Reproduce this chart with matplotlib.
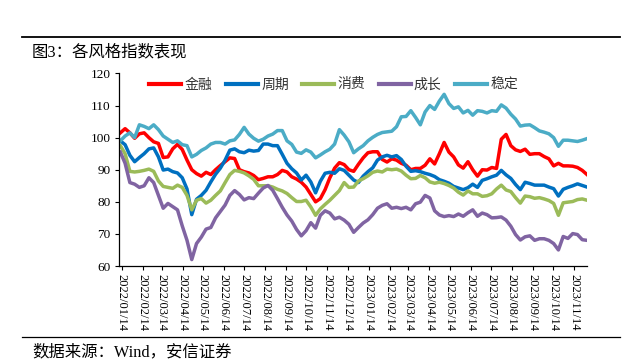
import matplotlib
matplotlib.use('Agg')
import matplotlib.pyplot as plt
import pandas as pd
from matplotlib.lines import Line2D

plt.rcParams['font.family'] = ['Liberation Serif', 'Noto Sans CJK SC']

# ---- data (weekly samples) ----
start_date = '2022-01-12'
end_date = '2023-12-03'
n_points = 99

fin = [101.5, 102.8, 101.5, 99.8, 101.2, 101.5, 100, 98.7, 98.2, 93.8,
       94, 96.5, 97.9, 96.3, 93, 90, 88.8, 88, 89.2, 88.5,
       90, 91.3, 92.5, 93.7, 93.5, 90, 89.4, 89, 88.2, 86.9,
       87.3, 87.8, 87.8, 88.5, 89.8, 89.3, 87.8, 87.1, 86.1, 84.6,
       82.3, 80, 81, 83.8, 87.5, 90.5, 92.2, 91.6, 90, 89.5,
       91.7, 93.7, 95.3, 95.6, 95.6, 93.2, 92.4, 93.4, 93, 92,
       91.4, 90, 90.4, 90.4, 91.4, 93.4, 91.8, 95, 98.5, 95.5,
       94, 91.5, 90.5, 92.5, 90, 88, 90, 89.9, 90.7, 90.4,
       99.5, 101, 97.5, 96.2, 95.7, 96.4, 94.8, 95, 95, 94.1,
       93.4, 91.2, 92, 91.2, 91.2, 91.1, 90.7, 89.8, 88.5]

cyc = [99, 97.8, 94.5, 92.5, 93.8, 95, 96.5, 96.8, 94, 89.9,
       90.2, 89.4, 89, 87.5, 84, 76, 80.8, 82, 83.6, 86.2,
       88.6, 90.5, 93, 96.1, 96.5, 95.6, 95.3, 96.1, 95.8, 96,
       98, 98, 97.5, 97.5, 94.8, 92, 90.3, 89, 86.8, 88.3,
       86.2, 82.8, 86.4, 88.9, 89.2, 88.9, 90.3, 89.8, 88.3, 86.8,
       86, 88, 89.4, 90.6, 93, 94, 94.5, 94, 94.4, 93.2,
       91.1, 89.5, 89.7, 89.4, 88.9, 88.5, 87.9, 86.9, 86.4, 85.8,
       84.8, 84.3, 83.8, 84.4, 85.5, 84.5, 86.7, 87.2, 87.8, 88.3,
       89.8, 88.4, 87.3, 85.4, 83.8, 86.1, 85.7, 85.2, 85.2, 85.2,
       84.6, 84.1, 81.8, 83.9, 84.5, 85, 85.6, 85.1, 84.6]

cons = [97.5, 95, 89.5, 89.3, 89.5, 89.8, 90.2, 89.5, 86.5, 84.8,
        84.5, 84.2, 85.2, 84.5, 82, 77.5, 80.5, 81, 79.6, 80.5,
        82, 83.4, 86, 88.5, 89.8, 89.5, 89, 88.1, 87, 85,
        85, 85, 84.6, 83.9, 83.4, 82.6, 81.3, 80.1, 80.1, 80.5,
        78.4, 75.8, 77.8, 79.2, 80.5, 82, 83.5, 86, 84.5, 84.6,
        86.5, 87.2, 88.1, 89.2, 89.6, 89.3, 90.2, 90, 90.2, 89.6,
        88.3, 87.2, 87.3, 88.2, 87.5, 86.2, 85.8, 86.1, 85.7, 85.1,
        84.3, 83, 82.1, 83.4, 82.5, 82.5, 81.7, 81.9, 82.5, 84,
        85.2, 83.7, 83.2, 81.3, 79.6, 81.8, 81.6, 81.1, 81.3, 80.9,
        80.4, 79.5, 75.8, 79.7, 79.9, 80.1, 80.7, 80.9, 80.5]

growth = [95.5, 92, 86, 85.5, 84.5, 85, 87.5, 86, 82, 78,
          79.5, 78.5, 77.5, 72.5, 68, 62, 67, 69, 71.5, 72,
          75, 77, 79, 82, 83.5, 82.3, 80.6, 81.3, 81, 82.7,
          84.3, 85.1, 83.6, 81, 78.3, 75.9, 74, 71.4, 69.4, 71,
          73.5, 71.8, 75.8, 77.2, 76.5, 74.7, 75.2, 74.3, 73, 70.5,
          72, 73.4, 74.4, 76, 78, 78.9, 79.4, 78, 78.3, 77.9,
          78.3, 77.5, 79.4, 79.9, 82, 81.2, 77.2, 75.9, 75.4, 75.7,
          75.4, 76.2, 75.5, 76.6, 77.5, 75.5, 76.5, 76, 75, 75.1,
          75.3, 74.3, 72.4, 69.8, 68.1, 69.1, 69.4, 68, 68.5, 68.5,
          68, 67, 65, 69.2, 68.6, 70.1, 69.8, 68.2, 68]

stable = [99, 100.5, 101.5, 100, 104, 103.5, 102.8, 104, 102.5, 100.5,
          99.5, 98.5, 99, 97.8, 97.5, 94, 94.8, 96, 96.8, 98,
          98.5, 98.5, 98, 99, 99.3, 101, 103.2, 101.1, 99.8, 98.9,
          99.5, 100.5, 101.1, 102.2, 102.2, 99, 97.9, 95.5, 95.1, 96.2,
          95.5, 93.7, 94.6, 95.6, 96.4, 98, 102.5, 100.8, 98.7, 95.3,
          96.5, 97.5, 99, 100.1, 101, 101.6, 101.8, 102, 103.4, 106.5,
          106.6, 108.4, 106.3, 104, 108, 110, 108.8, 111.4, 113.5, 110.6,
          109.1, 109.6, 107.7, 108.5, 107, 108.4, 108.2, 107.7, 108.4, 108.2,
          110.2, 109.2, 107.3, 105.8, 103.6, 103.9, 104, 103.1, 102.1, 101.7,
          101.2, 100, 97.3, 99.2, 99.2, 99, 98.8, 99.2, 99.7]

series_names = ['金融', '周期', '消费', '成长', '稳定']
series_colors = ['#FF0000', '#0070C0', '#9BBB59', '#8064A2', '#4BACC6']

tick_labels = ['2022/01/14', '2022/02/14', '2022/03/14', '2022/04/14', '2022/05/14',
               '2022/06/14', '2022/07/14', '2022/08/14', '2022/09/14', '2022/10/14',
               '2022/11/14', '2022/12/14', '2023/01/14', '2023/02/14', '2023/03/14',
               '2023/04/14', '2023/05/14', '2023/06/14', '2023/07/14', '2023/08/14',
               '2023/09/14', '2023/10/14', '2023/11/14']
y_ticks = [60, 70, 80, 90, 100, 110, 120]

title = '图3：各风格指数表现'
source = '数据来源：Wind，安信证券'

# ---- figure ----
fig = plt.figure(figsize=(6.37, 3.64), dpi=100)
ax = fig.add_axes([0.1868, 0.2692, 0.7347, 0.529])

dates = pd.date_range(start_date, end_date, periods=n_points)
for name, vals, col in zip(series_names, [fin, cyc, cons, growth, stable], series_colors):
    ax.plot(dates, vals, color=col, lw=2.5, label=name, solid_joinstyle='round')

ax.set_ylim(60, 120)
ax.set_yticks(y_ticks)
ax.set_yticklabels([str(v) for v in y_ticks], fontsize=9.5)
ax.set_xlim(pd.Timestamp('2022-01-10'), pd.Timestamp('2023-12-03'))
ax.set_xticks(pd.to_datetime(tick_labels, format='%Y/%m/%d'))
ax.set_xticklabels(tick_labels, rotation=270, fontsize=9)

for s in ['top', 'right']:
    ax.spines[s].set_visible(False)
for s in ['left', 'bottom']:
    ax.spines[s].set_linewidth(0.9)
    ax.spines[s].set_color('black')
ax.tick_params(direction='out', length=3, width=0.8, pad=3, colors='black')

leg = ax.legend(loc='center', bbox_to_anchor=(0.524, 0.767), bbox_transform=fig.transFigure,
                ncol=5, frameon=False, fontsize=10, handlelength=2.3, handletextpad=0.25,
                columnspacing=0.95)
for t in leg.get_texts():
    t.set_color('#333333')
for h in leg.get_lines():
    h.set_linewidth(3)

fig.text(31.7 / 637, 1 - 52.5 / 364, title, fontsize=11.8, va='center', ha='left')
fig.text(32 / 637, 1 - 352 / 364, source, fontsize=11.8, va='center', ha='left')

fig.add_artist(Line2D([22 / 637, 620 / 637], [1 - 37.3 / 364] * 2, color='black', lw=1.3,
                      transform=fig.transFigure))
fig.add_artist(Line2D([22 / 637, 620 / 637], [1 - 336.7 / 364] * 2, color='black', lw=0.9,
                      transform=fig.transFigure))

fig.savefig('out.png', dpi=100)
